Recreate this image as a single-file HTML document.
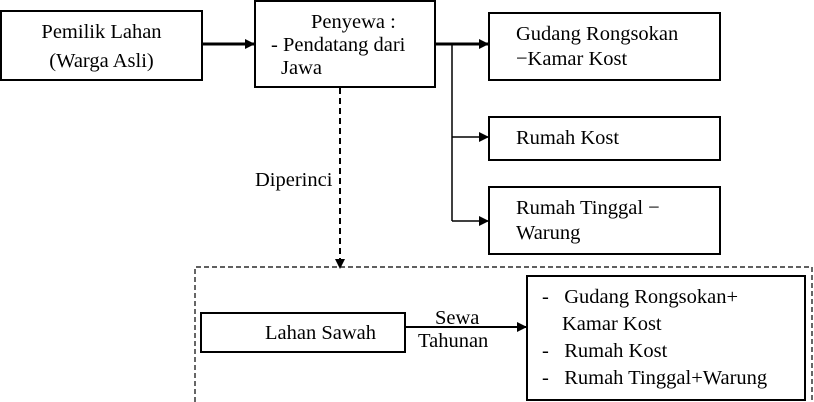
<!DOCTYPE html>
<html><head><style>
body{margin:0;width:814px;height:402px;background:#fff;position:relative;overflow:hidden;font-family:"Liberation Serif",serif;font-size:20.5px;color:#000}
.b{position:absolute;border:2px solid #000;box-sizing:border-box;line-height:24px}
.t{position:absolute;white-space:nowrap;line-height:24px}
</style></head><body>
<svg width="814" height="402" style="position:absolute;left:0;top:0">
<defs><marker id="a" markerWidth="10" markerHeight="10" refX="9" refY="5" orient="auto" markerUnits="userSpaceOnUse"><path d="M0,0 L10,5 L0,10z"/></marker></defs>
<line x1="202" y1="44" x2="254" y2="44" stroke="#000" stroke-width="3" marker-end="url(#a)"/>
<line x1="435" y1="44" x2="488" y2="44" stroke="#000" stroke-width="3" marker-end="url(#a)"/>
<line x1="452" y1="44" x2="452" y2="221" stroke="#000" stroke-width="1.5"/>
<line x1="452" y1="137" x2="488" y2="137" stroke="#000" stroke-width="1.5" marker-end="url(#a)"/>
<line x1="452" y1="221" x2="488" y2="221" stroke="#000" stroke-width="1.5" marker-end="url(#a)"/>
<line x1="340" y1="88" x2="340" y2="268" stroke="#000" stroke-width="2" stroke-dasharray="6,4" marker-end="url(#a)"/>
<path d="M195,402 L195,267 L812,267 L812,402" fill="none" stroke="#000" stroke-width="1.2" stroke-dasharray="5,3"/>
<line x1="405" y1="327" x2="526" y2="327" stroke="#000" stroke-width="2" marker-end="url(#a)"/>
</svg>
<div class="b" style="left:0;top:10px;width:203px;height:71px;text-align:center;padding-top:6px;line-height:29px">Pemilik Lahan<br>(Warga Asli)</div>
<div class="b" style="left:254px;top:0;width:182px;height:88px"><span class="t" style="left:55px;top:8px">Penyewa :</span><span class="t" style="left:15px;top:31px">- Pendatang dari</span><span class="t" style="left:25px;top:54px">Jawa</span></div>
<div class="b" style="left:488px;top:12px;width:233px;height:69px"><span class="t" style="left:26px;top:8px">Gudang Rongsokan</span><span class="t" style="left:26px;top:33px">−Kamar Kost</span></div>
<div class="b" style="left:488px;top:116px;width:233px;height:45px"><span class="t" style="left:26px;top:8px">Rumah Kost</span></div>
<div class="b" style="left:488px;top:186px;width:233px;height:69px"><span class="t" style="left:26px;top:8px">Rumah Tinggal −</span><span class="t" style="left:26px;top:33px">Warung</span></div>
<span class="t" style="left:255px;top:168px">Diperinci</span>
<div class="b" style="left:200px;top:312px;width:206px;height:41px"><span class="t" style="left:63px;top:7px">Lahan Sawah</span></div>
<span class="t" style="left:435px;top:306px">Sewa</span>
<span class="t" style="left:418px;top:329px">Tahunan</span>
<div class="b" style="left:526px;top:275px;width:280px;height:126px">
<span class="t" style="left:14px;top:8px">-&nbsp;&nbsp; Gudang Rongsokan+</span>
<span class="t" style="left:34px;top:35px">Kamar Kost</span>
<span class="t" style="left:14px;top:62px">-&nbsp;&nbsp; Rumah Kost</span>
<span class="t" style="left:14px;top:89px">-&nbsp;&nbsp; Rumah Tinggal+Warung</span>
</div>
</body></html>
